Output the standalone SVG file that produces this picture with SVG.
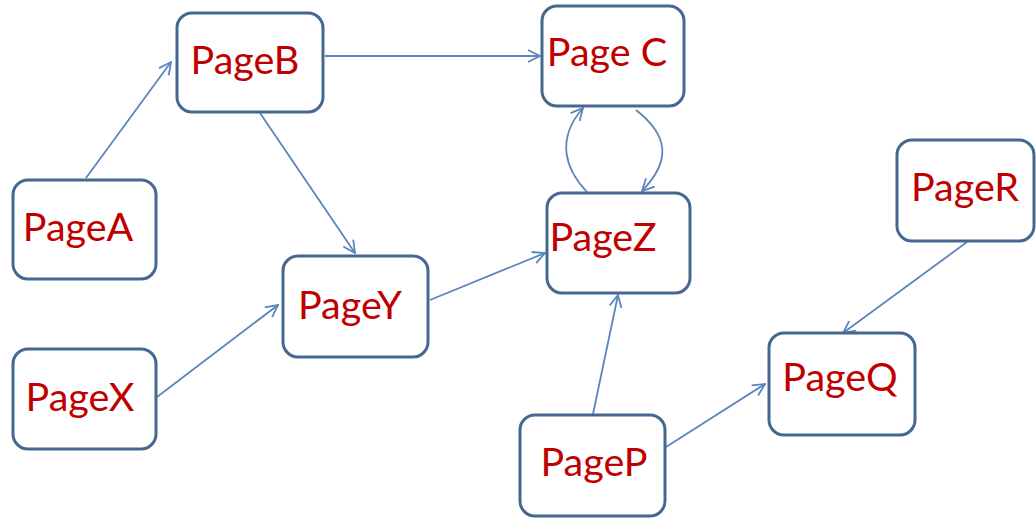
<svg xmlns="http://www.w3.org/2000/svg" width="1036" height="519" viewBox="0 0 1036 519">
  <style>
    .box { fill: #ffffff; stroke: #46678f; stroke-width: 3; }
    .lbl { font-family: Lato, "Open Sans", "Liberation Sans", sans-serif; font-size: 39.5px; fill: #c00000; text-anchor: middle; }
    .edge { fill: none; stroke: #5a86bd; stroke-width: 1.8; marker-end: url(#open); }
  </style>
  <defs>
    <marker id="open" viewBox="0 0 14 14" refX="13" refY="7" markerWidth="14" markerHeight="14" markerUnits="userSpaceOnUse" orient="auto">
      <path d="M1,1 L13,7 L1,13" fill="none" stroke="#5a86bd" stroke-width="1.8"/>
    </marker>
  </defs>
  <rect width="1036" height="519" fill="#ffffff"/>

  <g id="connectors">
    <line class="edge" x1="86" y1="178" x2="171" y2="62"/>
    <line class="edge" x1="325" y1="56" x2="540" y2="56"/>
    <line class="edge" x1="260" y1="113" x2="355" y2="253"/>
    <line class="edge" x1="157" y1="397" x2="278" y2="305"/>
    <line class="edge" x1="430" y1="300" x2="545" y2="253"/>
    <path class="edge" d="M587,192 C566,170 555,140 583,108"/>
    <path class="edge" d="M636,110 C668,135 672,160 642,191"/>
    <line class="edge" x1="593" y1="414" x2="618" y2="295"/>
    <line class="edge" x1="666" y1="447" x2="765" y2="384"/>
    <line class="edge" x1="967" y1="242" x2="843" y2="333"/>
  </g>

  <g id="pageA">
    <rect class="box" x="13" y="180" width="143" height="99" rx="15"/>
    <text class="lbl" x="78" y="241">PageA</text>
  </g>
  <g id="pageB">
    <rect class="box" x="177" y="13" width="146" height="99" rx="15"/>
    <text class="lbl" x="245" y="74">PageB</text>
  </g>
  <g id="pageC">
    <rect class="box" x="542" y="6" width="142" height="100" rx="15"/>
    <text class="lbl" x="607" y="66">Page C</text>
  </g>
  <g id="pageZ">
    <rect class="box" x="547" y="193" width="143" height="100" rx="15"/>
    <text class="lbl" x="603" y="251">PageZ</text>
  </g>
  <g id="pageY">
    <rect class="box" x="283" y="256" width="145" height="101" rx="15"/>
    <text class="lbl" x="350" y="319">PageY</text>
  </g>
  <g id="pageX">
    <rect class="box" x="13" y="349" width="143" height="100" rx="15"/>
    <text class="lbl" x="80" y="411">PageX</text>
  </g>
  <g id="pageP">
    <rect class="box" x="520" y="415" width="145" height="101" rx="15"/>
    <text class="lbl" x="594" y="476">PageP</text>
  </g>
  <g id="pageQ">
    <rect class="box" x="769" y="333" width="146" height="102" rx="15"/>
    <text class="lbl" x="840" y="391">PageQ</text>
  </g>
  <g id="pageR">
    <rect class="box" x="897" y="140" width="137" height="101" rx="15"/>
    <text class="lbl" x="965" y="201">PageR</text>
  </g>
</svg>
